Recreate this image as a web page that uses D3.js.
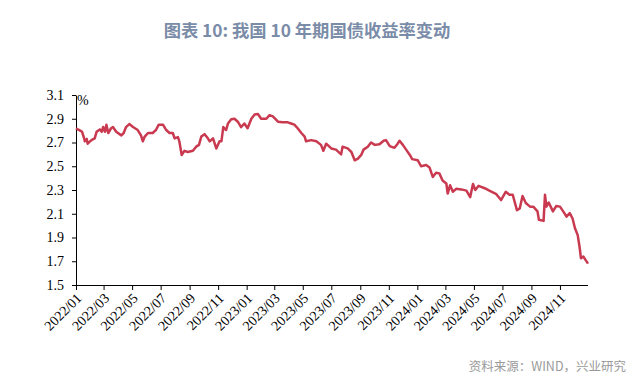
<!DOCTYPE html>
<html><head><meta charset="utf-8">
<script src="https://cdn.jsdelivr.net/npm/d3@7"></script>
<style>body{margin:0;background:#fff;}svg{display:block;}</style>
</head><body><svg id="c" width="644" height="387"></svg>
<script>
const title = "图表 10: 我国 10 年期国债收益率变动";
const source = "资料来源：WIND，兴业研究";
const unit = "%";
const yTicks = [1.5, 1.7, 1.9, 2.1, 2.3, 2.5, 2.7, 2.9, 3.1];
const xTickLabels = ["2022/01","2022/03","2022/05","2022/07","2022/09","2022/11","2023/01","2023/03","2023/05","2023/07","2023/09","2023/11","2024/01","2024/03","2024/05","2024/07","2024/09","2024/11"];
const dates = [
"2022-01-01","2022-01-05","2022-01-10","2022-01-14","2022-01-18","2022-01-20","2022-01-24","2022-01-26","2022-02-03","2022-02-10","2022-02-14","2022-02-21","2022-02-25","2022-02-28","2022-03-04","2022-03-07","2022-03-11","2022-03-17","2022-03-21","2022-03-28","2022-04-08","2022-04-13","2022-04-18","2022-04-25","2022-05-03","2022-05-13","2022-05-20","2022-05-24","2022-05-28","2022-06-04","2022-06-14","2022-06-21","2022-06-27","2022-07-06","2022-07-13","2022-07-20","2022-07-27","2022-07-31","2022-08-07","2022-08-10","2022-08-15","2022-08-21","2022-08-28","2022-09-08","2022-09-15","2022-09-21","2022-09-26","2022-10-03","2022-10-10","2022-10-14","2022-10-21","2022-10-28","2022-11-04","2022-11-08","2022-11-12","2022-11-18","2022-11-22","2022-11-29","2022-12-06","2022-12-13","2022-12-20","2022-12-27","2023-01-03","2023-01-11","2023-01-18","2023-01-25","2023-02-01","2023-02-12","2023-02-19","2023-02-26","2023-03-09","2023-03-19","2023-03-30","2023-04-06","2023-04-13","2023-04-20","2023-04-28","2023-05-05","2023-05-08","2023-05-19","2023-05-30","2023-06-09","2023-06-14","2023-06-20","2023-07-01","2023-07-11","2023-07-22","2023-07-25","2023-08-05","2023-08-13","2023-08-20","2023-08-27","2023-09-03","2023-09-08","2023-09-17","2023-09-24","2023-10-02","2023-10-12","2023-10-21","2023-10-26","2023-11-03","2023-11-13","2023-11-20","2023-11-24","2023-12-01","2023-12-08","2023-12-16","2023-12-21","2024-01-02","2024-01-09","2024-01-20","2024-01-27","2024-02-03","2024-02-10","2024-02-17","2024-02-24","2024-03-03","2024-03-06","2024-03-11","2024-03-17","2024-03-24","2024-04-04","2024-04-15","2024-04-23","2024-04-29","2024-05-04","2024-05-11","2024-05-24","2024-06-03","2024-06-18","2024-06-28","2024-07-08","2024-07-16","2024-07-23","2024-08-01","2024-08-07","2024-08-13","2024-08-20","2024-08-29","2024-09-05","2024-09-14","2024-09-17","2024-09-27","2024-09-30","2024-10-03","2024-10-08","2024-10-17","2024-10-24","2024-11-01","2024-11-08","2024-11-15","2024-11-22","2024-11-28","2024-12-03","2024-12-09","2024-12-13","2024-12-16","2024-12-21","2024-12-26","2024-12-31"
];
const yields = [
2.82,2.81,2.80,2.79,2.74,2.71,2.73,2.69,2.72,2.735,2.79,2.81,2.79,2.83,2.79,2.85,2.78,2.82,2.83,2.79,2.76,2.78,2.83,2.855,2.83,2.805,2.76,2.71,2.75,2.78,2.78,2.805,2.85,2.85,2.805,2.78,2.78,2.735,2.745,2.71,2.595,2.63,2.62,2.63,2.665,2.68,2.75,2.77,2.735,2.71,2.735,2.65,2.71,2.71,2.83,2.805,2.86,2.895,2.90,2.875,2.83,2.86,2.82,2.90,2.935,2.94,2.90,2.90,2.93,2.92,2.875,2.87,2.87,2.86,2.85,2.82,2.78,2.75,2.71,2.72,2.71,2.68,2.63,2.69,2.65,2.64,2.60,2.665,2.65,2.62,2.55,2.565,2.595,2.64,2.665,2.70,2.68,2.685,2.715,2.72,2.67,2.655,2.69,2.715,2.68,2.64,2.595,2.56,2.55,2.50,2.51,2.49,2.41,2.445,2.44,2.38,2.355,2.27,2.34,2.285,2.31,2.305,2.295,2.24,2.35,2.30,2.335,2.315,2.295,2.265,2.215,2.285,2.26,2.26,2.13,2.145,2.25,2.19,2.16,2.16,2.12,2.05,2.04,2.26,2.16,2.195,2.12,2.165,2.16,2.12,2.075,2.105,2.06,1.98,1.92,1.82,1.725,1.74,1.71,1.68
];

const data = dates.map((d,i)=>({date:new Date(d+"T00:00:00"), v:yields[i]}));
const svg = d3.select("#c");
const mL=76, mR=588, mT=95, mB=285;
const x = d3.scaleTime().domain([new Date("2022-01-01T00:00:00"), new Date("2024-12-31T00:00:00")]).range([mL,mR]);
const y = d3.scaleLinear().domain([1.5,3.1]).range([mB,mT]);

svg.append("text").attr("x",307).attr("y",37).attr("text-anchor","middle")
  .attr("font-family","'Noto Sans CJK SC', sans-serif").attr("font-weight","bold").attr("font-size",17.3)
  .attr("fill","#7a8ca8").text(title);

const parse = d3.timeParse("%Y/%m");
const tickDates = xTickLabels.map(s=>parse(s));
const xAxis = d3.axisBottom(x).tickValues(tickDates).tickFormat(d3.timeFormat("%Y/%m")).tickSize(5).tickSizeOuter(0);
const gx = svg.append("g").attr("transform",`translate(0,${mB})`).call(xAxis);
gx.select(".domain").attr("stroke","#000").attr("d",`M${mL},0.5H${mR}`);
gx.selectAll(".tick line").attr("stroke","#000");
gx.selectAll(".tick text").attr("font-family","'Liberation Serif', 'Times New Roman', serif").attr("font-size",14).attr("fill","#000")
  .attr("text-anchor","end").attr("dy",0).attr("y",0)
  .attr("transform","translate(6,14) rotate(-45)");

const yAxis = d3.axisLeft(y).tickValues(yTicks).tickFormat(d3.format(".1f")).tickSize(4).tickSizeOuter(0);
const gy = svg.append("g").attr("transform",`translate(${mL},0)`).call(yAxis);
gy.select(".domain").attr("stroke","#000");
gy.selectAll(".tick line").attr("stroke","#000");
gy.selectAll(".tick text").attr("font-family","'Liberation Serif', 'Times New Roman', serif").attr("font-size",14).attr("fill","#000").attr("x",-12);

svg.append("text").attr("x",77).attr("y",105).attr("font-family","'Liberation Serif', serif").attr("font-size",14).text(unit);

const line = d3.line().x(d=>x(d.date)).y(d=>y(d.v)).curve(d3.curveLinear);
svg.append("path").datum(data).attr("d",line).attr("fill","none").attr("stroke","#c93a50").attr("stroke-width",2.5).attr("stroke-linejoin","round");

svg.append("text").attr("x",626).attr("y",371).attr("text-anchor","end")
  .attr("font-family","'Noto Sans CJK SC', sans-serif").attr("font-size",12.5).attr("fill","#9a9a9a").text(source);
</script></body></html>
